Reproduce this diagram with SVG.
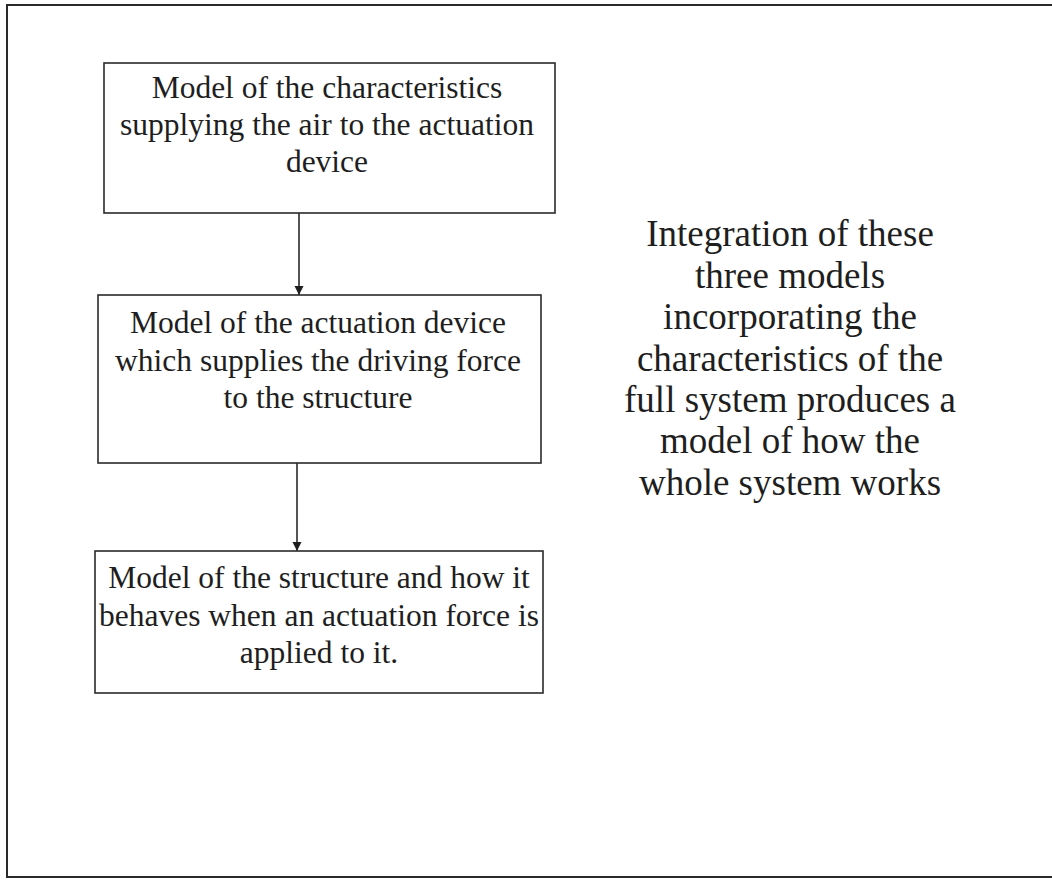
<svg xmlns="http://www.w3.org/2000/svg" width="1052" height="880" viewBox="0 0 1052 880">
<style>
.box{fill:#fff;stroke:#2a2a2a;stroke-width:1.6}
.t{font-family:"Liberation Serif","Times New Roman",serif;font-size:31.5px;fill:#1e1e1e;text-anchor:middle}
.r{font-family:"Liberation Serif","Times New Roman",serif;font-size:37px;fill:#1e1e1e;text-anchor:middle}
.c{stroke:#2a2a2a;stroke-width:1.6;fill:none}
</style>
<defs>
<marker id="ah" markerWidth="10" markerHeight="10" refX="9" refY="5" orient="auto" markerUnits="userSpaceOnUse">
<path d="M0,0.5 L9,5 L0,9.5 Z" fill="#1e1e1e"/>
</marker>
</defs>
<rect x="0" y="0" width="1052" height="880" fill="#fff"/>
<rect id="frame" x="7" y="5" width="1050" height="872" fill="none" stroke="#2a2a2a" stroke-width="2"/>
<g id="connectors">
<line class="c" x1="299" y1="213" x2="299" y2="295" marker-end="url(#ah)"/>
<line class="c" x1="297" y1="463" x2="297" y2="551" marker-end="url(#ah)"/>
</g>
<g id="node1">
<rect class="box" x="104" y="63" width="451" height="150"/>
<text class="t" x="327" y="98">Model of the characteristics</text>
<text class="t" x="327" y="135">supplying the air to the actuation</text>
<text class="t" x="327" y="172">device</text>
</g>
<g id="node2">
<rect class="box" x="98" y="295" width="443" height="168"/>
<text class="t" x="318" y="333">Model of the actuation device</text>
<text class="t" x="318" y="371">which supplies the driving force</text>
<text class="t" x="318" y="408">to the structure</text>
</g>
<g id="node3">
<rect class="box" x="95" y="551" width="448" height="142"/>
<text class="t" x="319" y="588">Model of the structure and how it</text>
<text class="t" x="319" y="626">behaves when an actuation force is</text>
<text class="t" x="319" y="663">applied to it.</text>
</g>
<g id="note">
<text class="r" x="790" y="246">Integration of these</text>
<text class="r" x="790" y="288">three models</text>
<text class="r" x="790" y="329">incorporating the</text>
<text class="r" x="790" y="371">characteristics of the</text>
<text class="r" x="790" y="412">full system produces a</text>
<text class="r" x="790" y="453">model of how the</text>
<text class="r" x="790" y="495">whole system works</text>
</g>
</svg>
